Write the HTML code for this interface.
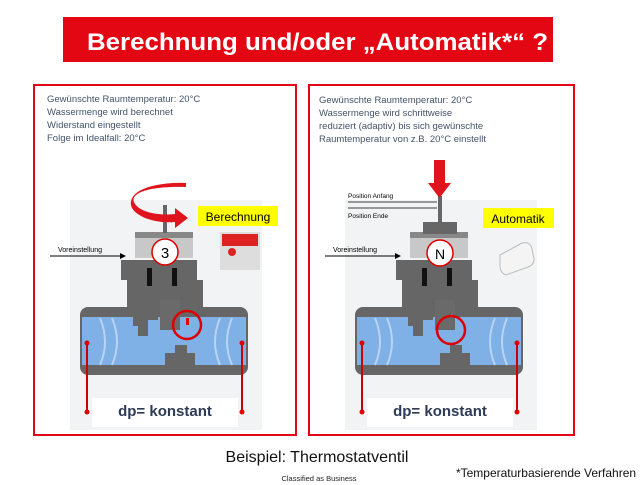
<!DOCTYPE html>
<html><head><meta charset="utf-8"><style>
html,body{margin:0;padding:0;background:#fff;}
svg{display:block;font-family:"Liberation Sans",sans-serif;}
</style></head><body>
<svg width="640" height="485" viewBox="0 0 640 485" xmlns="http://www.w3.org/2000/svg">
<defs>
<g id="valve">
  <rect x="70" y="200" width="192" height="230" fill="#f2f3f5"/>
  <rect x="80" y="307" width="168" height="68" rx="8" fill="#666"/>
  <rect x="82" y="317" width="164" height="48" fill="#7fb0e6"/>
  <path d="M100 318 q10 24 0 47 M112 318 q10 24 0 47 M220 318 q-10 24 0 47 M232 318 q-10 24 0 47" stroke="#b8d4f4" stroke-width="2" fill="none"/>
  <path d="M127 260 h70 v20 h6 v30 h-6 v0 H127 v-30 h-6 v-20z" fill="#666"/>
  <path d="M133 310 h25 v10 h-10 v16 h-10 v-10 h-5z" fill="#666"/>
  <path d="M175 345 h12 v8 h8 v20 h-30 v-20 h10z" fill="#666"/>
  <rect x="160" y="300" width="20" height="30" fill="#6a6a6a"/>
  <rect x="147" y="268" width="5" height="18" fill="#111"/>
  <rect x="172" y="268" width="5" height="18" fill="#111"/>
  <rect x="135" y="232" width="58" height="26" fill="#c8c8c8"/>
  <rect x="135" y="232" width="58" height="6" fill="#888"/>
  <rect x="92" y="398" width="146" height="29" fill="#fff"/>
  <line x1="87" y1="343" x2="87" y2="412" stroke="#c00" stroke-width="2"/>
  <line x1="242" y1="343" x2="242" y2="412" stroke="#c00" stroke-width="2"/>
  <circle cx="87" cy="343" r="2.5" fill="#d00"/><circle cx="242" cy="343" r="2.5" fill="#d00"/>
  <circle cx="87" cy="412" r="2.5" fill="#d00"/><circle cx="242" cy="412" r="2.5" fill="#d00"/>
  <text x="165" y="416" font-size="15" font-weight="bold" fill="#2d3b55" text-anchor="middle">dp= konstant</text>
  <line x1="50" y1="256" x2="122" y2="256" stroke="#000" stroke-width="1"/>
  <path d="M126 256 l-6 -3 v6z" fill="#000"/>
  <text x="58" y="252" font-size="7" fill="#000">Voreinstellung</text>
</g>
</defs>

<rect x="63" y="17" width="490" height="45" fill="#e30613"/>
<text x="87" y="50" font-size="24" font-weight="bold" fill="#fff" textLength="461" lengthAdjust="spacingAndGlyphs">Berechnung und/oder „Automatik*“ ?</text>

<rect x="34" y="85" width="262" height="350" fill="#fff" stroke="#e30613" stroke-width="2"/>
<rect x="309" y="85" width="265" height="350" fill="#fff" stroke="#e30613" stroke-width="2"/>

<g font-size="9.5" fill="#44546a">
<text x="47" y="102">Gewünschte Raumtemperatur: 20°C</text>
<text x="47" y="115">Wassermenge wird berechnet</text>
<text x="47" y="128">Widerstand eingestellt</text>
<text x="47" y="141">Folge im Idealfall: 20°C</text>
<text x="319" y="103">Gewünschte Raumtemperatur: 20°C</text>
<text x="319" y="116">Wassermenge wird schrittweise</text>
<text x="319" y="129">reduziert (adaptiv) bis sich gewünschte</text>
<text x="319" y="142">Raumtemperatur von z.B. 20°C einstellt</text>
</g>

<use href="#valve"/>
<rect x="163" y="205" width="4" height="28" fill="#666"/>
<circle cx="165" cy="252" r="13" fill="#fff" stroke="#d00" stroke-width="1.5"/>
<text x="165" y="258" font-size="15" text-anchor="middle">3</text>
<circle cx="187" cy="325" r="14" fill="none" stroke="#d00" stroke-width="2.5"/>
<rect x="186" y="318" width="3" height="7" fill="#e00"/>
<path d="M186 187 C160 186 130 190 134 202 C138 212 158 216 175 214 L175 208 L188 218 L175 228 L175 222 C155 224 133 216 131 205 C129 188 160 182 186 183z" fill="#e0141c"/>
<rect x="198" y="206" width="80" height="20" fill="#ffff00"/>
<text x="238" y="221" font-size="12" text-anchor="middle">Berechnung</text>
<rect x="220" y="232" width="40" height="38" fill="#ddd"/>
<rect x="222" y="234" width="36" height="12" fill="#d22"/>
<circle cx="232" cy="252" r="4" fill="#d22"/>

<use href="#valve" transform="translate(275,0)"/>
<rect x="438" y="196" width="4" height="38" fill="#666"/>
<rect x="423" y="222" width="34" height="12" fill="#666"/>
<circle cx="440" cy="253" r="13" fill="#fff" stroke="#d00" stroke-width="1.5"/>
<text x="440" y="259" font-size="14" text-anchor="middle">N</text>
<circle cx="451" cy="330" r="14" fill="none" stroke="#d00" stroke-width="2.5"/>
<rect x="434" y="160" width="11" height="24" fill="#e0141c"/>
<path d="M428 183 h23 l-11.5 15z" fill="#e0141c"/>
<line x1="348" y1="202" x2="437" y2="202" stroke="#000" stroke-width="0.8"/>
<line x1="348" y1="208" x2="437" y2="208" stroke="#000" stroke-width="0.8"/>
<text x="348" y="198" font-size="6.5">Position Anfang</text>
<text x="348" y="218" font-size="6.5">Position Ende</text>
<rect x="483" y="208" width="71" height="20" fill="#ffff00"/>
<text x="518" y="223" font-size="12" text-anchor="middle">Automatik</text>
<path d="M500 255 l22 -12 q8 -2 10 6 l2 10 q0 6 -6 8 l-22 8 q-6 -2 -6 -10z" fill="#f4f4f4" stroke="#bbb"/>

<text x="317" y="462" font-size="16" text-anchor="middle" fill="#111">Beispiel: Thermostatventil</text>
<text x="319" y="481" font-size="7.5" text-anchor="middle" fill="#222">Classified as Business</text>
<text x="546" y="477" font-size="12" text-anchor="middle" fill="#111">*Temperaturbasierende Verfahren</text>
</svg>
</body></html>
